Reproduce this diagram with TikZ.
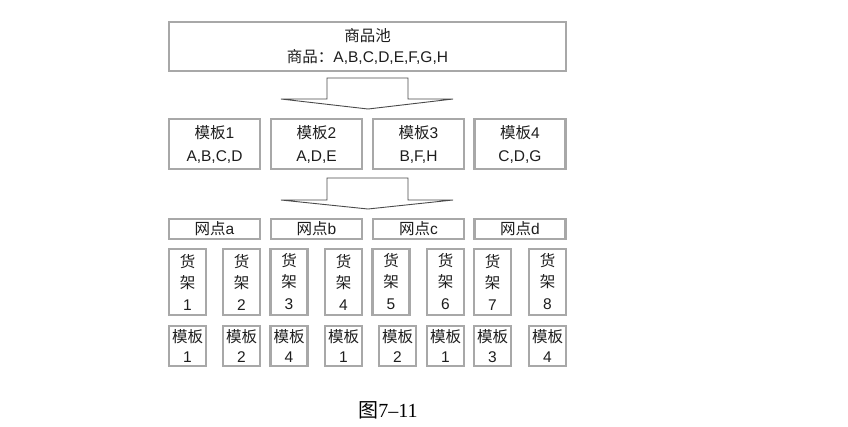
\documentclass[tikz,border=0pt]{standalone}
\usepackage{fontspec}
\setmainfont{Liberation Sans}
\newfontfamily\cjk{Noto Sans CJK SC}
\newfontfamily\capserif{Liberation Serif}
\newcommand{\zh}[1]{{\cjk #1}}
\definecolor{boxgray}{HTML}{A8A8A8}
\definecolor{txt}{HTML}{1E1E1E}
\definecolor{arrowline}{HTML}{4A4A4A}
\tikzset{
  box/.style={draw=boxgray, line width=2.4pt, fill=white, inner sep=0pt, align=center,
              text=txt, font=\fontsize{15.5}{20}\selectfont},
  bigarrow/.style={draw=arrowline, line width=0.9pt, fill=white, line join=miter}
}
\begin{document}
\begin{tikzpicture}[x=1pt,y=-1pt]
\useasboundingbox (0,0) rectangle (848,426);
% pool
\node[box, minimum width=397pt, minimum height=49pt] (pool) at (367.5,46.5)
  {\zh{商品池}\\[1pt]\zh{商品：}A,B,C,D,E,F,G,H};
% arrow 1
\coordinate (a1) at (327,78);
\draw[bigarrow] (a1) -- ++(81,0) -- ++(0,21) -- ++(45,0) -- (368,109) -- (281,99) -- (327,99) -- cycle;
% templates
\foreach \n/\x/\t/\l in {t1/214.5/1/{A,B,C,D}, t2/316.5/2/{A,D,E}, t3/418.5/3/{B,F,H}, t4/520/4/{C,D,G}}{
  \node[box, minimum width=91pt, minimum height=50pt] (\n) at (\x,144)
    {\zh{模板}\t\\[3pt]\l};
}
% arrow 2
\coordinate (a2) at (327,178);
\draw[bigarrow] (a2) -- ++(81,0) -- ++(0,22) -- ++(45,0) -- (368,209) -- (281,200) -- (327,200) -- cycle;
% outlets
\foreach \n/\x/\l in {w1/214.5/a, w2/316.5/b, w3/418.5/c, w4/520/d}{
  \node[box, minimum width=91pt, minimum height=20pt] (\n) at (\x,229) {\zh{网点}\l};
}
% shelves
\foreach \i/\x in {1/187.5, 2/241.5, 3/289, 4/343.5, 5/391, 6/445.5, 7/492.5, 8/547.5}{
  \node[box, minimum width=37pt, minimum height=66pt] (s\i) at (\x,282)
    {\zh{货}\\[1pt]\zh{架}\\[2pt]\i};
}
% shelf templates
\foreach \i/\x/\t in {1/187.5/1, 2/241.5/2, 3/289/4, 4/343.5/1, 5/397.5/2, 6/445.5/1, 7/492.5/3, 8/547.5/4}{
  \node[box, minimum width=37pt, minimum height=40pt] (m\i) at (\x,346)
    {\zh{模板}\\\t};
}
% caption
\node[text=black, inner sep=0pt, font=\fontsize{20}{22}\selectfont] (cap) at (388,410)
  {\zh{图}\capserif 7–11};
\end{tikzpicture}
\end{document}
